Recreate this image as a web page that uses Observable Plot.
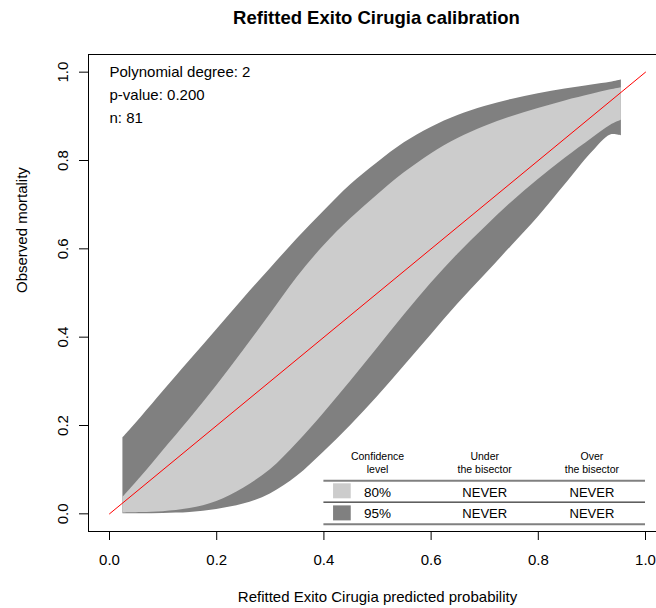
<!DOCTYPE html>
<html>
<head>
<meta charset="utf-8">
<script src="https://cdn.jsdelivr.net/npm/d3@7"></script>
<script src="https://cdn.jsdelivr.net/npm/@observablehq/plot@0.6"></script>
<style>
  body { margin: 0; background: #ffffff; }
  #chart svg { display: block; }
</style>
</head>
<body>
<div id="chart"></div>
<script>
// ---------- data ----------
const title = "Refitted Exito Cirugia calibration";
const xLabel = "Refitted Exito Cirugia predicted probability";
const yLabel = "Observed mortality";
const infoLines = ["Polynomial degree: 2", "p-value: 0.200", "n: 81"];
const xTicks = [0, 0.2, 0.4, 0.6, 0.8, 1.0];
const yTicks = [0, 0.2, 0.4, 0.6, 0.8, 1.0];

const probs   = [0.025, 0.06, 0.10, 0.15, 0.20, 0.25, 0.30, 0.35, 0.40, 0.45, 0.50, 0.55, 0.60, 0.65, 0.70, 0.75, 0.80, 0.85, 0.90, 0.935, 0.955];
const upper95 = [0.172, 0.220, 0.277, 0.347, 0.417, 0.487, 0.555, 0.622, 0.685, 0.745, 0.795, 0.840, 0.875, 0.902, 0.922, 0.938, 0.951, 0.962, 0.971, 0.977, 0.982];
const upper80 = [0.037, 0.085, 0.143, 0.215, 0.290, 0.370, 0.452, 0.535, 0.607, 0.668, 0.722, 0.772, 0.815, 0.850, 0.877, 0.899, 0.918, 0.935, 0.950, 0.960, 0.965];
const lower80 = [0.002, 0.003, 0.005, 0.012, 0.028, 0.058, 0.100, 0.160, 0.228, 0.300, 0.375, 0.450, 0.522, 0.588, 0.648, 0.705, 0.757, 0.805, 0.850, 0.880, 0.891];
const lower95 = [0.000, 0.000, 0.001, 0.003, 0.010, 0.022, 0.045, 0.085, 0.140, 0.200, 0.265, 0.335, 0.405, 0.475, 0.540, 0.606, 0.672, 0.745, 0.818, 0.858, 0.856];

const bisector = [0, 1];

const tableHeaders = ["Confidence\nlevel", "Under\nthe bisector", "Over\nthe bisector"];
const confLevels = ["80%", "95%"];
const underBisector = ["NEVER", "NEVER"];
const overBisector = ["NEVER", "NEVER"];

// ---------- styles ----------
const LIGHT = "#cccccc";
const DARK = "#808080";
const FONT = "'Liberation Sans', Arial, Helvetica, sans-serif";

const bands = probs.map((p, i) => ({p, hi95: upper95[i], hi80: upper80[i], lo80: lower80[i], lo95: lower95[i]}));
const diag = bisector.map(v => ({x: v, y: v}));
const rows = confLevels.map((c, i) => ({level: c, under: underBisector[i], over: overBisector[i]}));

// table layout (data coordinates)
const colX = [0.5, 0.7, 0.9];
const rowY = i => 0.048 - i * 0.048;
const headers = tableHeaders.map((t, i) => ({t, x: colX[i]}));

const X0 = -0.0392, X1 = 1.0205, Y0 = -0.04, Y1 = 1.04;

const chart = Plot.plot({
  width: 656,
  height: 608,
  marginLeft: 88,
  marginRight: 0,
  marginTop: 54,
  marginBottom: 77,
  style: {fontFamily: FONT, fontSize: "15px", color: "#000", background: "#fff"},
  x: {domain: [X0, X1]},
  y: {domain: [Y0, Y1]},
  marks: [
    // bands
    Plot.areaY(bands, {x: "p", y1: "lo95", y2: "hi95", fill: DARK, curve: "catmull-rom"}),
    Plot.areaY(bands, {x: "p", y1: "lo80", y2: "hi80", fill: LIGHT, curve: "catmull-rom"}),
    // bisector
    Plot.line(diag, {x: "x", y: "y", stroke: "#ff0000", strokeWidth: 1}),
    // box (right side falls outside the picture)
    Plot.ruleY([Y0, Y1], {x1: X0, x2: X1, stroke: "#000", strokeWidth: 1}),
    Plot.ruleX([X0], {y1: Y0, y2: Y1, stroke: "#000", strokeWidth: 1}),
    // axes
    Plot.axisX({ticks: xTicks, tickSize: 9, tickPadding: 14, tickFormat: d3.format(".1f"), label: null, fontSize: 15}),
    Plot.axisY({ticks: yTicks, tickSize: 9, tickPadding: 12, tickRotate: -90, tickFormat: d3.format(".1f"), label: null, fontSize: 15}),
    // info text
    Plot.text(infoLines, {x: () => 0, y: (d, i) => 1 - i * 0.052, text: d => d, textAnchor: "start", lineAnchor: "middle", fontSize: 15}),
    // titles
    Plot.text([title], {frameAnchor: "top", dx: 4, dy: -36, text: d => d, fontSize: 18.5, fontWeight: "bold", lineAnchor: "middle"}),
    Plot.text([xLabel], {frameAnchor: "bottom", dx: 5, dy: 66, text: d => d, fontSize: 15, lineAnchor: "middle"}),
    Plot.text([yLabel], {frameAnchor: "left", dx: -66, text: d => d, fontSize: 15, rotate: -90, lineAnchor: "middle"}),
    // table
    Plot.text(headers, {x: "x", y: () => 0.117, text: "t", fontSize: 10.5, lineHeight: 1.27, lineAnchor: "middle"}),
    Plot.ruleY([0.0748], {x1: 0.4, x2: 1.0, stroke: DARK, strokeWidth: 2}),
    Plot.ruleY([0.0265], {x1: 0.4, x2: 1.0, stroke: "#000", strokeWidth: 1}),
    Plot.ruleY([-0.0234], {x1: 0.4, x2: 1.0, stroke: DARK, strokeWidth: 2}),
    Plot.rect(rows.slice(0, 1), {x1: () => 0.418, x2: () => 0.451, y1: () => 0.034, y2: () => 0.068, fill: LIGHT}),
    Plot.rect(rows.slice(1, 2), {x1: () => 0.418, x2: () => 0.451, y1: () => -0.016, y2: () => 0.018, fill: DARK}),
    Plot.text(rows, {x: () => colX[0], y: (d, i) => rowY(i), text: "level", fontSize: 13.5, lineAnchor: "middle"}),
    Plot.text(rows, {x: () => colX[1], y: (d, i) => rowY(i), text: "under", fontSize: 13, lineAnchor: "middle"}),
    Plot.text(rows, {x: () => colX[2], y: (d, i) => rowY(i), text: "over", fontSize: 13, lineAnchor: "middle"})
  ]
});
document.getElementById("chart").appendChild(chart);
</script>
</body>
</html>
